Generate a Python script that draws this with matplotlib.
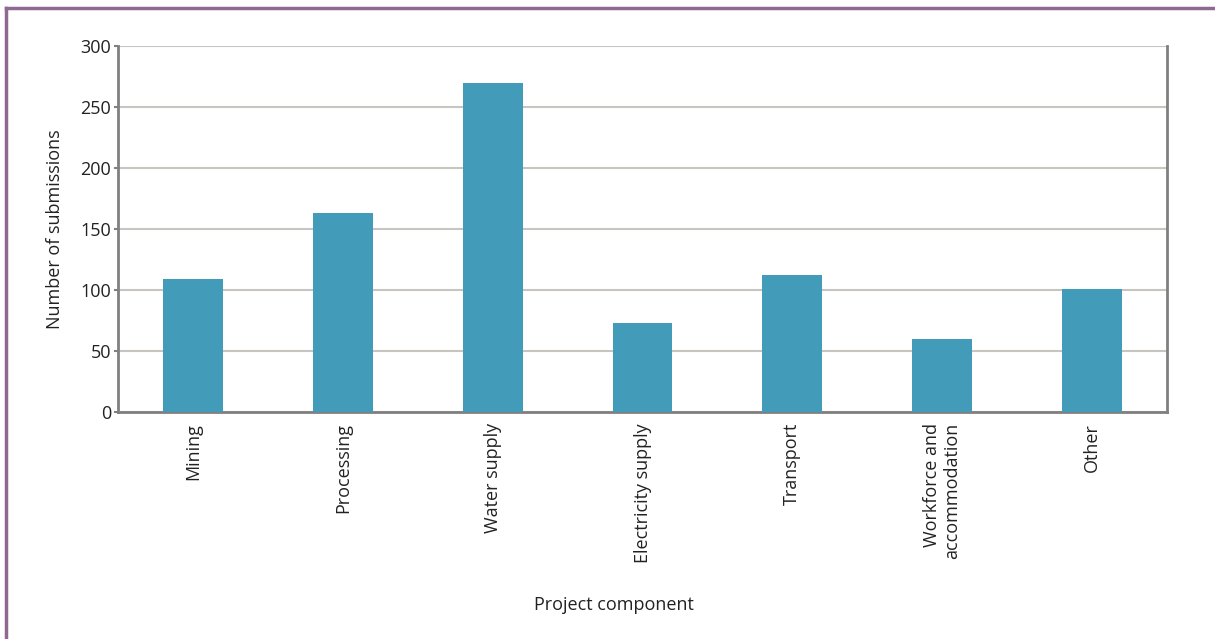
import matplotlib.pyplot as plt
from matplotlib.lines import Line2D

categories = ["Mining", "Processing", "Water supply", "Electricity supply",
              "Transport", "Workforce and\naccommodation", "Other"]
submissions = [109, 163, 270, 73, 112, 60, 101]
yticks = [0, 50, 100, 150, 200, 250, 300]

plt.rcParams['font.family'] = ['Open Sans', 'DejaVu Sans']
fs = 13

fig = plt.figure(figsize=(12.15, 6.39), dpi=100)
ax = fig.add_axes([118/1215, 1 - 412/639, (1167-118)/1215, (412-46)/639])

x = range(len(categories))
ax.bar(x, submissions, width=0.4, color='#429bb8', zorder=3)

ax.set_xlim(-0.5, len(categories) - 0.5)
ax.set_ylim(0, 300)
ax.set_yticks(yticks)
ax.set_xticks(list(x))
ax.set_xticklabels(categories, rotation=90, ha='center', va='top',
                   multialignment='right')
ax.tick_params(axis='x', length=0, pad=8, labelsize=fs, colors='#222222')
ax.tick_params(axis='y', length=3, width=1.5, color='#808080', pad=2,
               labelsize=fs, labelcolor='#222222')

ax.yaxis.grid(True, color='#c8c4c0', linewidth=1.5, zorder=0)
ax.set_axisbelow(True)

for side in ['left', 'bottom', 'right']:
    ax.spines[side].set_color('#808080')
    ax.spines[side].set_linewidth(2)
ax.spines['top'].set_visible(False)

ax.set_ylabel("Number of submissions", fontsize=fs, color='#222222', labelpad=12)
fig.text(614/1215, 1 - 605/639, "Project component", ha='center', va='center',
         fontsize=fs, color='#222222')

# purple frame lines (top and left)
frame_c = '#8e6a93'
fig.add_artist(Line2D([6/1215, 1], [1 - 8/639, 1 - 8/639], color=frame_c,
                      linewidth=2.5, transform=fig.transFigure))
fig.add_artist(Line2D([6/1215, 6/1215], [0, 1 - 8/639], color=frame_c,
                      linewidth=2.5, transform=fig.transFigure))

fig.savefig('out.png', dpi=100)
